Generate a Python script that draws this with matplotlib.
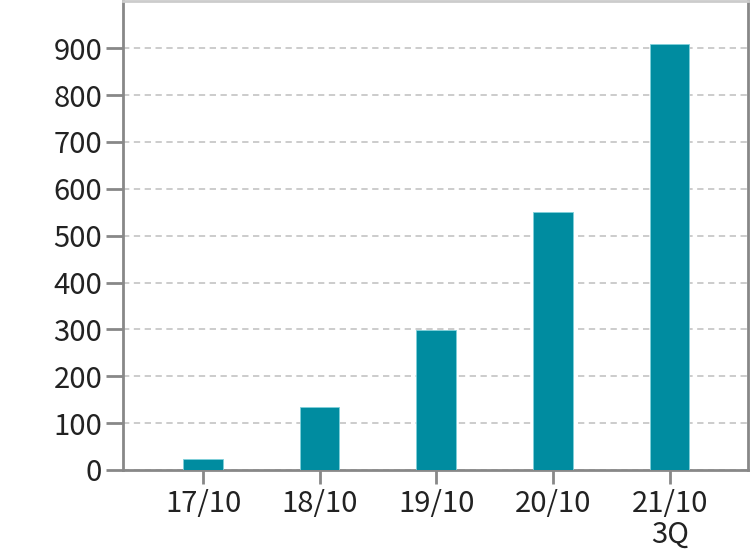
import matplotlib.pyplot as plt
import numpy as np

plt.rcParams['font.family'] = ['Noto Sans CJK JP', 'DejaVu Sans']

labels = ["17/10", "18/10", "19/10", "20/10", "21/10\n3Q"]
values = [23, 134, 298, 550, 910]
yticks = [0, 100, 200, 300, 400, 500, 600, 700, 800, 900]

fig = plt.figure(figsize=(7.5, 5.5), dpi=100)
ax = fig.add_axes([0.164, 0.1455, 0.833, 0.852])

x = np.arange(len(labels))
ax.bar(x, values, width=0.34, color="#008ca0", edgecolor="#7fd0da", linewidth=0.6, zorder=3)

ax.set_xlim(-0.686, 4.67)
ax.set_ylim(0, 1000)
ax.set_yticks(yticks)
ax.set_xticks(x)
ax.set_xticklabels(labels, linespacing=1.0)

ax.yaxis.grid(True, linestyle=(0, (3.5, 2.5)), color="#c8c8c8", linewidth=1.3, zorder=0)
ax.set_axisbelow(True)

for s in ["left", "bottom", "right"]:
    ax.spines[s].set_color("#888888")
    ax.spines[s].set_linewidth(2)
ax.spines["top"].set_color("#cccccc")
ax.spines["top"].set_linewidth(2)

ax.tick_params(axis="y", length=12, width=2, color="#888888", pad=3, labelsize=21, labelcolor="#222222")
ax.tick_params(axis="x", length=10, width=2, color="#888888", pad=4, labelsize=21, labelcolor="#222222")

fig.savefig("out.png", dpi=100)
